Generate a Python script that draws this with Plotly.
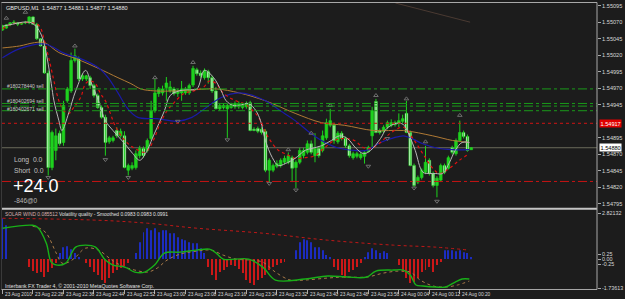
import plotly.graph_objects as go

# ---------------- data ----------------
bars = list(range(124))  # M1 bars, 23 Aug 22:20 -> 24 Aug 00:23

opens = [
    1.55058, 1.55061, 1.55066, 1.55070, 1.55069, 1.55067, 1.55069, 1.55069, 1.55078, 1.55067,
    1.55045, 1.55034, 1.54993, 1.54850, 1.54876, 1.54902, 1.54888, 1.54951, 1.54966, 1.55012,
    1.55015, 1.54984, 1.54984, 1.54986, 1.54974, 1.54959, 1.54941, 1.54926, 1.54889, 1.54891,
    1.54906, 1.54898, 1.54898, 1.54846, 1.54849, 1.54850, 1.54868, 1.54879, 1.54876, 1.54894,
    1.54936, 1.54962, 1.54963, 1.54971, 1.54966, 1.54969, 1.54962, 1.54963, 1.54963, 1.54963,
    1.54975, 1.54998, 1.54993, 1.54986, 1.54995, 1.54986, 1.54966, 1.54939, 1.54941, 1.54939,
    1.54941, 1.54942, 1.54942, 1.54941, 1.54942, 1.54948, 1.54908, 1.54909, 1.54908, 1.54905,
    1.54846, 1.54846, 1.54852, 1.54853, 1.54858, 1.54858, 1.54865, 1.54850, 1.54858, 1.54868,
    1.54873, 1.54886, 1.54868, 1.54879, 1.54876, 1.54895, 1.54914, 1.54914, 1.54889, 1.54902,
    1.54894, 1.54883, 1.54865, 1.54867, 1.54865, 1.54867, 1.54874, 1.54898, 1.54950, 1.54906,
    1.54905, 1.54911, 1.54914, 1.54918, 1.54917, 1.54920, 1.54932, 1.54903, 1.54853, 1.54828,
    1.54835, 1.54843, 1.54861, 1.54841, 1.54823, 1.54831, 1.54853, 1.54849, 1.54880, 1.54871,
    1.54891, 1.54903, 1.54897, 1.54877]
highs = [
    1.55066, 1.55067, 1.55070, 1.55073, 1.55070, 1.55070, 1.55072, 1.55079, 1.55079, 1.55069,
    1.55046, 1.55034, 1.54997, 1.54906, 1.54909, 1.54906, 1.54951, 1.54972, 1.55024, 1.55030,
    1.55018, 1.54992, 1.54990, 1.54989, 1.54977, 1.54962, 1.54944, 1.54930, 1.54898, 1.54898,
    1.54911, 1.54909, 1.54905, 1.54856, 1.54858, 1.54876, 1.54883, 1.54882, 1.54894, 1.54951,
    1.54984, 1.54972, 1.54974, 1.54987, 1.54981, 1.54972, 1.54969, 1.54981, 1.54972, 1.54977,
    1.55004, 1.55001, 1.54997, 1.55000, 1.54998, 1.54989, 1.54972, 1.54947, 1.54947, 1.54947,
    1.54948, 1.54950, 1.54950, 1.54948, 1.54950, 1.54951, 1.54911, 1.54912, 1.54911, 1.54908,
    1.54864, 1.54856, 1.54861, 1.54864, 1.54868, 1.54873, 1.54868, 1.54861, 1.54880, 1.54880,
    1.54891, 1.54891, 1.54902, 1.54882, 1.54906, 1.54924, 1.54939, 1.54918, 1.54905, 1.54905,
    1.54897, 1.54886, 1.54874, 1.54874, 1.54873, 1.54876, 1.54883, 1.54942, 1.54954, 1.54909,
    1.54914, 1.54921, 1.54923, 1.54921, 1.54932, 1.54930, 1.54951, 1.54906, 1.54856, 1.54838,
    1.54849, 1.54883, 1.54864, 1.54844, 1.54837, 1.54856, 1.54856, 1.54868, 1.54883, 1.54894,
    1.54921, 1.54906, 1.54900, 1.54881]
lows = [
    1.55057, 1.55060, 1.55064, 1.55067, 1.55064, 1.55066, 1.55067, 1.55067, 1.55066, 1.55043,
    1.55033, 1.54992, 1.54838, 1.54846, 1.54861, 1.54883, 1.54883, 1.54948, 1.54963, 1.55009,
    1.54981, 1.54981, 1.54981, 1.54969, 1.54956, 1.54939, 1.54924, 1.54868, 1.54886, 1.54888,
    1.54895, 1.54895, 1.54849, 1.54838, 1.54846, 1.54847, 1.54864, 1.54865, 1.54873, 1.54891,
    1.54933, 1.54957, 1.54959, 1.54951, 1.54963, 1.54959, 1.54957, 1.54951, 1.54960, 1.54960,
    1.54972, 1.54989, 1.54986, 1.54983, 1.54977, 1.54963, 1.54938, 1.54936, 1.54938, 1.54895,
    1.54939, 1.54939, 1.54939, 1.54938, 1.54939, 1.54905, 1.54905, 1.54902, 1.54900, 1.54843,
    1.54828, 1.54843, 1.54849, 1.54850, 1.54855, 1.54855, 1.54828, 1.54819, 1.54855, 1.54864,
    1.54870, 1.54870, 1.54858, 1.54865, 1.54873, 1.54892, 1.54911, 1.54886, 1.54886, 1.54891,
    1.54880, 1.54865, 1.54862, 1.54864, 1.54862, 1.54856, 1.54873, 1.54880, 1.54902, 1.54900,
    1.54902, 1.54908, 1.54911, 1.54912, 1.54911, 1.54917, 1.54902, 1.54852, 1.54820, 1.54825,
    1.54832, 1.54840, 1.54838, 1.54820, 1.54805, 1.54828, 1.54840, 1.54847, 1.54870, 1.54868,
    1.54889, 1.54894, 1.54874, 1.54877]
closes = [
    1.55064, 1.55066, 1.55069, 1.55069, 1.55067, 1.55069, 1.55070, 1.55078, 1.55067, 1.55045,
    1.55034, 1.54993, 1.54850, 1.54903, 1.54898, 1.54886, 1.54944, 1.54969, 1.55012, 1.55019,
    1.54984, 1.54989, 1.54989, 1.54974, 1.54959, 1.54941, 1.54926, 1.54888, 1.54895, 1.54895,
    1.54898, 1.54905, 1.54850, 1.54853, 1.54853, 1.54871, 1.54879, 1.54868, 1.54891, 1.54936,
    1.54963, 1.54969, 1.54969, 1.54978, 1.54972, 1.54962, 1.54966, 1.54969, 1.54969, 1.54974,
    1.55000, 1.54992, 1.54989, 1.54997, 1.54986, 1.54966, 1.54939, 1.54944, 1.54944, 1.54944,
    1.54945, 1.54947, 1.54947, 1.54945, 1.54947, 1.54906, 1.54906, 1.54905, 1.54903, 1.54846,
    1.54861, 1.54853, 1.54856, 1.54861, 1.54864, 1.54868, 1.54849, 1.54858, 1.54876, 1.54876,
    1.54886, 1.54873, 1.54879, 1.54868, 1.54898, 1.54918, 1.54921, 1.54891, 1.54902, 1.54894,
    1.54883, 1.54868, 1.54871, 1.54871, 1.54870, 1.54873, 1.54880, 1.54936, 1.54903, 1.54903,
    1.54911, 1.54918, 1.54918, 1.54915, 1.54921, 1.54924, 1.54903, 1.54853, 1.54823, 1.54835,
    1.54846, 1.54858, 1.54841, 1.54823, 1.54834, 1.54853, 1.54843, 1.54865, 1.54873, 1.54891,
    1.54903, 1.54897, 1.54876, 1.54880]

# moving averages (bar position, price)
fast_x = [0.1, 2.7, 5.3, 7.6, 9.2, 10.5, 11.7, 12.8, 13.5, 14.8, 15.6, 17.4, 19.2, 21.8, 23.1, 25.2,
          27.0, 29.0, 32.1, 34.2, 36.0, 37.5, 39.9, 42.5, 44.0, 46.3, 48.4, 51.0, 53.0, 55.4, 57.4,
          58.7, 60.5, 62.1, 64.6, 66.5, 67.7, 69.0, 70.8, 72.4, 74.2, 76.8, 79.4, 81.2, 83.7, 86.3,
          88.4, 90.5, 92.8, 94.8, 96.6, 99.2, 100.8, 103.4, 105.2, 107.0, 108.3, 110.3, 112.1,
          113.7, 115.5, 117.3, 118.8, 120.6, 122.5]
fast_y = [1.55064, 1.55067, 1.55070, 1.55069, 1.55061, 1.55046, 1.55016, 1.54977, 1.54951, 1.54921,
          1.54906, 1.54933, 1.54966, 1.54997, 1.54981, 1.54951, 1.54921, 1.54906, 1.54886, 1.54871,
          1.54861, 1.54871, 1.54902, 1.54936, 1.54959, 1.54966, 1.54968, 1.54969, 1.54997, 1.54986,
          1.54966, 1.54951, 1.54944, 1.54944, 1.54947, 1.54936, 1.54921, 1.54891, 1.54865, 1.54853,
          1.54856, 1.54864, 1.54876, 1.54879, 1.54883, 1.54891, 1.54898, 1.54894, 1.54879, 1.54871,
          1.54876, 1.54894, 1.54909, 1.54917, 1.54915, 1.54895, 1.54876, 1.54843, 1.54841, 1.54841,
          1.54841, 1.54858, 1.54876, 1.54888, 1.54888]

red_x = [0.1, 1.9, 4.5, 7.9, 9.7, 11.0, 12.3, 13.5, 14.8, 16.1, 17.4, 18.7, 20.5, 21.8, 23.1, 24.4,
         25.7, 27.0, 28.3, 29.5, 32.1, 34.7, 37.3, 38.6, 39.9, 41.4, 43.2, 45.0, 47.6, 50.2, 52.8,
         54.3, 56.1, 57.4, 59.5, 61.3, 63.9, 65.7, 67.2, 69.8, 72.4, 74.2, 76.8, 79.4, 82.0, 84.5,
         87.1, 89.7, 92.3, 94.8, 96.6, 99.2, 101.8, 105.2, 107.7, 110.3, 112.9, 114.7, 117.3,
         119.9, 122.5]
red_y = [1.55060, 1.55066, 1.55069, 1.55069, 1.55064, 1.55042, 1.55012, 1.54981, 1.54951, 1.54936,
         1.54932, 1.54941, 1.54956, 1.54977, 1.54981, 1.54977, 1.54962, 1.54951, 1.54932, 1.54914,
         1.54891, 1.54879, 1.54873, 1.54880, 1.54895, 1.54917, 1.54936, 1.54948, 1.54962, 1.54966,
         1.54972, 1.54981, 1.54977, 1.54966, 1.54956, 1.54951, 1.54945, 1.54936, 1.54926, 1.54895,
         1.54876, 1.54871, 1.54864, 1.54865, 1.54868, 1.54880, 1.54891, 1.54894, 1.54891, 1.54880,
         1.54879, 1.54888, 1.54902, 1.54911, 1.54894, 1.54871, 1.54849, 1.54841, 1.54849, 1.54861,
         1.54871]

blue_x = [0, 4.5, 11.0, 16.6, 20.0, 25.2, 27.7, 30.3, 32.9, 35.5, 40.6, 45.8, 49.7, 53.5, 57.4, 62.1,
          65.2, 69.0, 72.9, 76.8, 80.6, 83.7, 87.9, 92.3, 95.6, 99.2, 102.6, 105.2, 107.0, 110.3,
          113.7, 118.1, 122.5]
blue_y = [1.55016, 1.55030, 1.55037, 1.55022, 1.55016, 1.55001, 1.54986, 1.54963, 1.54939, 1.54926,
          1.54924, 1.54920, 1.54926, 1.54941, 1.54956, 1.54963, 1.54960, 1.54951, 1.54936, 1.54921,
          1.54903, 1.54891, 1.54880, 1.54876, 1.54876, 1.54888, 1.54895, 1.54898, 1.54895, 1.54886,
          1.54880, 1.54877, 1.54877]

brown_x = [0, 4.5, 8.4, 11.0, 14.8, 19.2, 25.2, 30.3, 33.7, 36.3, 39.9, 45.8, 51.0, 56.1, 62.1, 69.0,
           76.8, 83.7, 89.7, 97.4, 105.2, 112.9, 118.1, 122.5]
brown_y = [1.55031, 1.55034, 1.55039, 1.55039, 1.55024, 1.55015, 1.55000, 1.54986, 1.54977, 1.54969,
           1.54966, 1.54966, 1.54968, 1.54969, 1.54963, 1.54951, 1.54932, 1.54918, 1.54914, 1.54906,
           1.54906, 1.54898, 1.54891, 1.54888]

frac_up_x = [1, 6, 19, 40, 50, 75, 81, 86, 98, 106, 111, 120]
frac_up_y = [1.55076, 1.55085, 1.55034, 1.54986, 1.55009, 1.54877, 1.54902, 1.54944, 1.54959,
             1.54954, 1.54889, 1.54929]
frac_dn_x = [12, 27, 33, 46, 59, 70, 77, 96, 101, 108, 114]
frac_dn_y = [1.54835, 1.54862, 1.54835, 1.54920, 1.54892, 1.54826, 1.54816, 1.54852, 1.54894,
             1.54819, 1.54799]

trend_x = [103.1, 122.7]
trend_y = [1.55099, 1.55070]

sell_levels = [1.54969, 1.54947, 1.54943, 1.54936]
sell_labels = ["#180278440 sell", "#180402694 sell", "#180402671 sell"]
sell_label_y = [1.54974, 1.54950, 1.54939]
sl_level = 1.54917
tp_level = 1.54829
bid = 1.54880

price_ticks = [1.55095, 1.55070, 1.55045, 1.55020, 1.54995, 1.54970, 1.54945,
               1.54895, 1.54870, 1.54845, 1.54820, 1.54795]

# sub window: Solar Wind histogram + Volatility Quality
hist = [2.05, 1.7, 0, 0, 0, 0, 0, -0.4, -0.6, -0.7,
        -0.65, -0.9, -0.65, -0.45, -0.2, 0.3, 0.6, 0.65, 0.5, 0.3,
        0.1, 0, -0.2, -0.4, -0.65, -0.8, -1.05, -1.2, -0.95, -0.7,
        -0.55, -0.45, -0.35, -0.2, 0, 0.3, 0.85, 1.35, 1.55, 1.45,
        1.55, 1.35, 1.45, 1.45, 1.3, 1.3, 1.1, 1.0, 0.95, 0.85,
        0.8, 0.8, 0.55, 0.3, -0.4, -0.8, -1.05, -0.65, -0.55, -0.4,
        -0.3, -0.35, -0.5, -0.7, -1.05, -1.2, -1.3, -1.05, -0.95, -0.8,
        -0.55, -0.4, -0.3, -0.2, -0.15, 0, 0, 0.45, 0.85, 1.0,
        0.95, 0.85, 0.6, 0.6, 0.45, 0.2, 0.1, -0.4, -0.55, -0.8,
        -0.95, -0.65, -0.55, -0.4, -0.2, 0.1, 0.35, 0.55, 0.45, 0.3,
        0.4, 0.3, 0, 0, -0.3, -0.65, -0.95, -1.2, -1.15, -0.95,
        -0.65, -0.55, -0.4, -0.65, -0.3, -0.15, 0.45, 0.45, 0.45, 0.4,
        0.45, 0.35, 0.3, 0.1]

vq_x = [0, 7.9, 9.2, 11.5, 12.8, 14.3, 16.6, 19.2, 21.8, 24.4, 27.0, 29.0, 32.1, 34.7, 37.3, 39.9,
        42.5, 46.6, 51.0, 54.3, 56.1, 57.9, 64.6, 68.3, 71.6, 79.4, 85.3, 90.5, 95.6, 98.0, 102.6,
        105.2, 107.0, 108.5, 110.3, 113.7, 116.3, 118.8, 120.6, 122.5]
vq_y = [1.55, 1.7, 1.6, 0.8, -0.15, -0.3, -0.2, 0.6, 0.7, 0.6, -0.05, -0.3, -0.4, -0.65, -0.65, -0.3,
        0.3, 0.35, 0.45, 0.5, 0.3, 0.0, 0.0, -0.4, -1.05, -1.0, -0.85, -0.9, -0.9, -0.6, -0.55,
        -0.55, -0.8, -1.3, -1.35, -1.4, -1.4, -1.15, -1.0, -1.0]

vqs_x = [7.9, 9.7, 11.5, 14.1, 15.6, 17.4, 19.2, 21.8, 25.2, 27.7, 29.5, 32.1, 34.7, 38.1, 40.6,
         43.2, 46.6, 51.0, 54.8, 57.9, 61.3, 65.2, 68.3, 71.6, 75.5, 79.4, 85.3, 89.7, 95.6, 100.0,
         103.9, 107.0, 109.6, 113.0, 116.3, 119.4, 122.5]
vqs_y = [1.65, 1.55, 1.3, 0.3, -0.2, -0.15, 0.1, 0.55, 0.45, 0.1, -0.15, -0.4, -0.55, -0.65, -0.45,
         -0.05, 0.25, 0.4, 0.45, 0.2, 0.0, -0.05, -0.15, -0.65, -1.05, -1.05, -0.95, -0.9, -0.9,
         -0.7, -0.6, -0.65, -1.05, -1.35, -1.4, -1.3, -1.1]

sw_x = [0, 25.2, 38.1, 51.0, 68.3, 85.3, 102.6, 113.7, 122.5]
sw_y = [2.05, 1.95, 1.8, 1.55, 1.3, 0.95, 0.7, 0.6, 0.45]

sub_tickvals = [2.3, 0.25, 0, -0.25, -1.45]
sub_ticktext = ["2.82132", "0.25", "0.00", "-0.25", "-1.73613"]

time_ticks = list(range(0, 121, 8))
time_labels = ["23 Aug 2010", "23 Aug 22:28", "23 Aug 22:36", "23 Aug 22:44", "23 Aug 22:52",
               "23 Aug 23:00", "23 Aug 23:08", "23 Aug 23:16", "23 Aug 23:24", "23 Aug 23:32",
               "23 Aug 23:40", "23 Aug 23:48", "23 Aug 23:56", "24 Aug 00:04", "24 Aug 00:12",
               "24 Aug 00:20"]

# ---------------- layout helpers ----------------
W, H = 625, 299
ML, MR, MT, MB = 2, 18, 2, 10
PW, PH = W - ML - MR, H - MT - MB


def fx(px):
    return (px - ML) / PW


def fy(py):
    return (H - MB - py) / PH


BG = "#1c1c1c"
GREEN = "#1ed21e"
FONT = "Liberation Sans"
XR = [-0.129, 156.0]

fig = go.Figure()

# wicks
wx, wy = [], []
for i in bars:
    wx += [i, i, None]
    wy += [lows[i], highs[i], None]
fig.add_trace(go.Scatter(x=wx, y=wy, mode="lines", line=dict(color=GREEN, width=1),
                         hoverinfo="skip", xaxis="x", yaxis="y"))

# bodies
for bull in (True, False):
    xs, base, ln = [], [], []
    for i in bars:
        up = closes[i] >= opens[i]
        if up == bull:
            xs.append(i)
            base.append(min(opens[i], closes[i]))
            ln.append(max(abs(closes[i] - opens[i]), 0.000012))
    fig.add_trace(go.Bar(x=xs, y=ln, base=base, width=0.72,
                         marker=dict(color=GREEN if bull else "#ffffff",
                                     line=dict(color=GREEN, width=0.6)),
                         xaxis="x", yaxis="y", hoverinfo="skip"))

# moving averages
fig.add_trace(go.Scatter(x=brown_x, y=brown_y, mode="lines", line=dict(color="#b07a35", width=1, shape="spline"),
                         xaxis="x", yaxis="y"))
fig.add_trace(go.Scatter(x=blue_x, y=blue_y, mode="lines", line=dict(color="#1a1aa8", width=1.2, shape="spline"),
                         xaxis="x", yaxis="y"))
fig.add_trace(go.Scatter(x=red_x, y=red_y, mode="lines", line=dict(color="#e01010", width=1.2, dash="dot", shape="spline"),
                         xaxis="x", yaxis="y"))
fig.add_trace(go.Scatter(x=fast_x, y=fast_y, mode="lines", line=dict(color="#b8b8b8", width=1, shape="spline"),
                         xaxis="x", yaxis="y"))
fig.add_trace(go.Scatter(x=trend_x, y=trend_y, mode="lines", line=dict(color="#4a3a32", width=1),
                         xaxis="x", yaxis="y"))
# fractals
fig.add_trace(go.Scatter(x=frac_up_x, y=frac_up_y, mode="markers",
                         marker=dict(symbol="triangle-up-open", size=4, color="#6e6e6e", line=dict(width=1)),
                         xaxis="x", yaxis="y"))
fig.add_trace(go.Scatter(x=frac_dn_x, y=frac_dn_y, mode="markers",
                         marker=dict(symbol="triangle-down-open", size=4, color="#6e6e6e", line=dict(width=1)),
                         xaxis="x", yaxis="y"))

# sub window histogram
pos_x = [i for i in bars if hist[i] > 0]
pos_y = [hist[i] for i in bars if hist[i] > 0]
neg_x = [i for i in bars if hist[i] < 0]
neg_y = [hist[i] for i in bars if hist[i] < 0]
fig.add_trace(go.Bar(x=pos_x, y=pos_y, width=0.26, marker=dict(color="#1c2cc0", line=dict(width=0)),
                     xaxis="x2", yaxis="y2"))
fig.add_trace(go.Bar(x=neg_x, y=neg_y, width=0.26, marker=dict(color="#cc1818", line=dict(width=0)),
                     xaxis="x2", yaxis="y2"))
fig.add_trace(go.Scatter(x=sw_x, y=sw_y, mode="lines", line=dict(color="#c01818", width=1, dash="dot", shape="spline"),
                         xaxis="x2", yaxis="y2"))
fig.add_trace(go.Scatter(x=vqs_x, y=vqs_y, mode="lines", line=dict(color="#a87a48", width=1, dash="dot", shape="spline"),
                         xaxis="x2", yaxis="y2"))
fig.add_trace(go.Scatter(x=vq_x, y=vq_y, mode="lines", line=dict(color="#18b018", width=1.4, shape="spline"),
                         xaxis="x2", yaxis="y2"))

shapes = []
for lv in sell_levels:
    shapes.append(dict(type="line", xref="x domain", yref="y", x0=0, x1=1, y0=lv, y1=lv,
                       line=dict(color="#1a9a1a", width=1, dash="dashdot")))
shapes.append(dict(type="line", xref="x domain", yref="y", x0=0, x1=1, y0=sl_level, y1=sl_level,
                   line=dict(color="#d01414", width=1, dash="dot")))
shapes.append(dict(type="line", xref="x domain", yref="y", x0=0, x1=1, y0=tp_level, y1=tp_level,
                   line=dict(color="#c81414", width=1, dash="dashdot")))
shapes.append(dict(type="line", xref="x domain", yref="y", x0=0, x1=1, y0=bid, y1=bid,
                   line=dict(color="#6c6c5c", width=1), layer="below"))
# frames
FR = "#a8a8a8"
shapes.append(dict(type="line", xref="paper", yref="paper", x0=fx(1), x1=fx(607), y0=fy(1.5), y1=fy(1.5),
                   line=dict(color=FR, width=1)))
shapes.append(dict(type="line", xref="paper", yref="paper", x0=fx(1), x1=fx(607), y0=fy(208.5), y1=fy(208.5),
                   line=dict(color="#c4c4c4", width=2)))
shapes.append(dict(type="line", xref="paper", yref="paper", x0=fx(1), x1=fx(607), y0=fy(289.5), y1=fy(289.5),
                   line=dict(color=FR, width=1)))
shapes.append(dict(type="line", xref="paper", yref="paper", x0=fx(607), x1=fx(607), y0=fy(1.5), y1=fy(289.5),
                   line=dict(color=FR, width=1)))
shapes.append(dict(type="line", xref="paper", yref="paper", x0=fx(1.5), x1=fx(1.5), y0=fy(1.5), y1=fy(289.5),
                   line=dict(color="#3a3a3a", width=1)))

ann = []


def text(px, py, s, size=5.5, color="#d8d8d8", anchor="left"):
    ann.append(dict(x=fx(px), y=fy(py), xref="paper", yref="paper", text=s, showarrow=False,
                    xanchor=anchor, yanchor="middle", font=dict(family=FONT, size=size, color=color)))


text(4, 7, "GBPUSD,M1  1.54877 1.54881 1.54877 1.54880", 5.6, "#e4e4e4")
for s, yv in zip(sell_labels, sell_label_y):
    ann.append(dict(x=fx(5), y=yv, xref="paper", yref="y", text=s, showarrow=False, xanchor="left",
                    yanchor="middle", font=dict(family=FONT, size=5, color="#c8c8c8")))
text(12, 160, "Long  0.0", 6.8, "#c0c0c0")
text(12, 170, "Short  0.0", 6.8, "#c0c0c0")
text(11, 186, "+24.0", 18, "#ffffff")
text(12, 200, "-846@0", 6.5, "#b8b8b8")
text(3, 214, "SOLAR WIND 0.085512", 4.9, "#d8b0b0")
text(58, 214, "Volatility quality - Smoothed 0.0983 0.0983 0.0991", 4.9, "#e0e0e0")
text(3, 286, "Interbank FX Trader 4, \u00a9 2001-2010 MetaQuotes Software Corp.", 5.2, "#e0e0e0")
for tv, tl in zip(time_ticks, time_labels):
    ann.append(dict(x=tv, y=fy(294.5), xref="x2", yref="paper", text=tl, showarrow=False, xanchor="left",
                    xshift=0.5, yanchor="middle", font=dict(family=FONT, size=4.8, color="#d8d8d8")))
ann.append(dict(x=1.003, y=sl_level, xref="paper", yref="y", text="1.54917", showarrow=False, xanchor="left",
                yanchor="middle", bgcolor="#e00000", borderpad=0.5,
                font=dict(family=FONT, size=5.6, color="#ffffff")))
ann.append(dict(x=1.003, y=bid, xref="paper", yref="y", text="1.54880", showarrow=False, xanchor="left",
                yanchor="middle", bgcolor="#ffffff", borderpad=0.5,
                font=dict(family=FONT, size=5.6, color="#000000")))

fig.update_layout(
    width=W, height=H, margin=dict(l=ML, r=MR, t=MT, b=MB, pad=0),
    paper_bgcolor=BG, plot_bgcolor=BG, showlegend=False, barmode="overlay",
    shapes=shapes, annotations=ann,
    xaxis=dict(domain=[0, 1], anchor="y", range=XR, showticklabels=False, showgrid=False,
               zeroline=False, showline=False, ticks=""),
    xaxis2=dict(domain=[0, 1], anchor="y2", range=XR, matches="x", showticklabels=False,
                showgrid=False, zeroline=False, showline=False, ticks="outside", ticklen=4,
                tickcolor="#a8a8a8", tickvals=time_ticks),
    yaxis=dict(domain=[fy(208), 1], anchor="x", range=[1.547884, 1.550990], side="right",
               tickvals=price_ticks, tickformat=".5f", ticks="outside", ticklen=3, tickcolor="#a8a8a8",
               tickfont=dict(family=FONT, size=5.6, color="#d8d8d8"), showgrid=False, zeroline=False),
    yaxis2=dict(domain=[0, fy(211)], anchor="x2", range=[-1.5, 2.4], side="right",
                tickvals=sub_tickvals, ticktext=sub_ticktext, ticks="outside", ticklen=3,
                tickcolor="#a8a8a8", tickfont=dict(family=FONT, size=5.4, color="#d8d8d8"),
                showgrid=False, zeroline=False),
)

fig.write_html("out.html")
